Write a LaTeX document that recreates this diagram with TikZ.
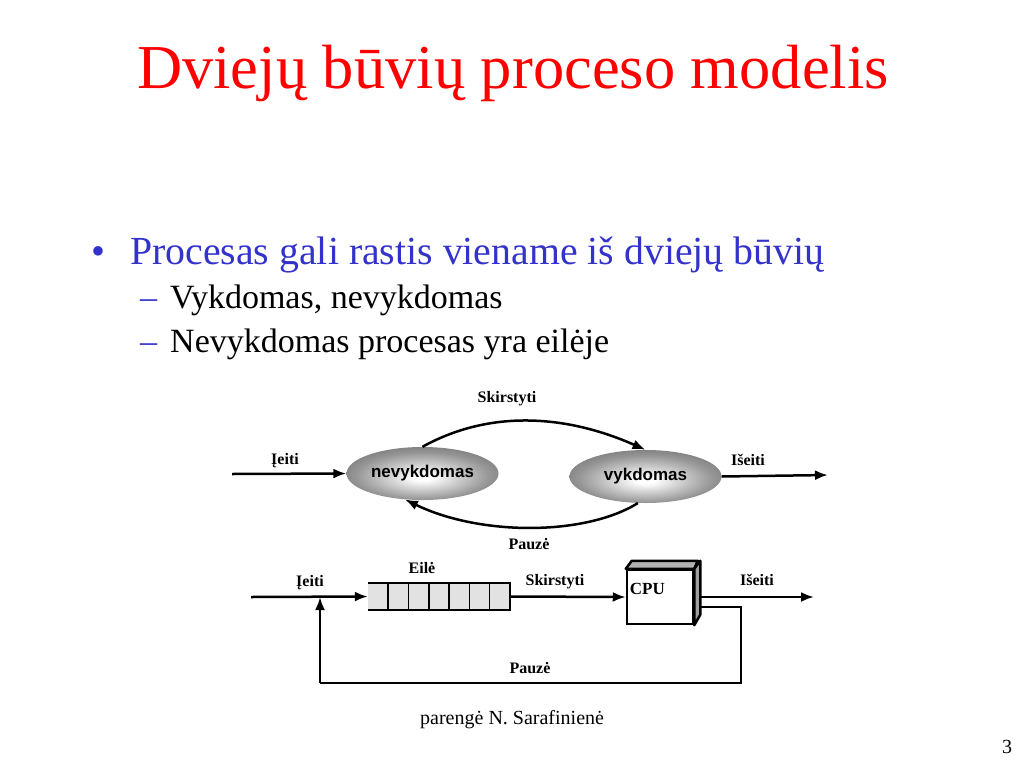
\documentclass[tikz,border=0pt]{standalone}
\usepackage{fontspec}
\setmainfont{Liberation Serif}
\setsansfont{Liberation Sans}
\usetikzlibrary{arrows.meta,shapes.geometric}
\definecolor{titlered}{RGB}{255,0,0}
\definecolor{bulletblue}{RGB}{51,51,204}
\definecolor{qgray}{RGB}{226,226,226}
\definecolor{ellmid}{RGB}{150,150,150}
\definecolor{ellout}{RGB}{75,75,75}
\pgfdeclareradialshading{ellsh}{\pgfpoint{0bp}{-4bp}}{color(0bp)=(white); color(3bp)=(white); color(22bp)=(ellmid); color(42bp)=(ellout); color(50bp)=(ellout)}
\begin{document}
\begin{tikzpicture}[x=1pt,y=-1pt,
  arr/.style={line width=2.5pt,-{Latex[length=13pt,width=10pt]}},
  ln/.style={line width=2.5pt},
  lbl/.style={font=\fontsize{16}{18}\selectfont\bfseries, inner sep=0pt},
  state/.style={ellipse, shading=ellsh, inner sep=0pt, minimum width=152pt, minimum height=53pt, font=\sffamily\bfseries\fontsize{17}{19}\selectfont},
  queue/.style={fill=qgray, minimum width=142pt, minimum height=27pt, inner sep=0pt},
  cpubox/.style={draw, line width=2.5pt, fill=white, minimum width=66pt, minimum height=54pt, inner sep=0pt},
  txt/.style={inner sep=0pt, anchor=base west}
]
\useasboundingbox (0,0) rectangle (1024,768);
\fill[white] (0,0) rectangle (1024,768);

% title and bullets
\node[txt, text=titlered, font=\fontsize{62.5}{70}\selectfont] (title) at (137,88) {Dviejų būvių proceso modelis};
\node[txt, text=bulletblue, font=\fontsize{39.8}{44}\selectfont] (b0) at (91,264) {•};
\node[txt, text=bulletblue, font=\fontsize{39.8}{44}\selectfont] (b1) at (130,264) {Procesas gali rastis viename iš dviejų būvių};
\node[txt, text=bulletblue, font=\fontsize{34}{38}\selectfont] (d1) at (140,308) {–};
\node[txt, font=\fontsize{34}{38}\selectfont] (s1) at (170,308) {Vykdomas, nevykdomas};
\node[txt, text=bulletblue, font=\fontsize{34}{38}\selectfont] (d2) at (140,352) {–};
\node[txt, font=\fontsize{34}{38}\selectfont] (s2) at (170,352) {Nevykdomas procesas yra eilėje};
\node[txt, font=\fontsize{20}{22}\selectfont] (foot) at (420,724) {parengė N. Sarafinienė};
\node[txt, font=\fontsize{20}{22}\selectfont] (pg) at (1002,753) {3};

% upper diagram
\node[state] (nev) at (422.5,473.5) {nevykdomas};
\node[state] (vyk) at (645.5,476.5) {vykdomas};
\coordinate (inA) at (232,474);
\coordinate (outA) at (828,475);
\draw[arr] (inA) -- (nev.west);
\draw[arr] (vyk.east) -- (outA);
\draw[arr] (nev.north) .. controls (485,412) and (560,412) .. (vyk.north);
\draw[arr] (vyk.-106) .. controls (585,536) and (480,536) .. (nev.-124);
\node[lbl] (l1) at (285,461) {Įeiti};
\node[lbl] (l2) at (748,460) {Išeiti};
\node[lbl] (l3) at (507,399) {Skirstyti};
\node[lbl] (l4) at (529,544) {Pauzė};

% lower diagram
\node[queue] (q) at (439,596.5) {};
\draw[ln] (q.north west) -- (q.north east) -- (q.south east) -- (q.south west);
\foreach \k in {1,...,6} {
  \draw[line width=1.6pt] ([xshift=\k*20.3pt]q.north west) -- ([xshift=\k*20.3pt]q.south west);
}
\node[cpubox] (cpu) at (660,597) {};
\draw[ln, fill=gray!60, line join=round] (cpu.north west) -- ++(6,-8) -- ++(66,0) -- (cpu.north east) -- cycle;
\draw[ln, fill=gray!75, line join=round] (cpu.north east) -- ++(6,-8) -- ++(0,54) -- (cpu.south east) -- cycle;
\node[anchor=west, inner sep=0pt, font=\fontsize{17}{19}\selectfont\bfseries] (cpul) at ([xshift=4pt,yshift=8pt]cpu.west) {CPU};

\coordinate (inB) at (251,597);
\coordinate (joinB) at (320,597);
\coordinate (outB) at (814,597);
\coordinate (pS) at (699,607);
\coordinate (pR) at (741,607);
\coordinate (pRB) at (741,683);
\coordinate (pLB) at (320,683);
\draw[arr] (inB) -- (q.west);
\draw[arr] (q.east) -- (cpu.west);
\draw[arr] ([xshift=6pt]cpu.east) -- (outB);
\draw[ln, line join=miter] (pS) -- (pR) -- (pRB) -- (pLB);
\draw[arr] (pLB) -- (joinB);
\node[lbl] (m1) at (310,583) {Įeiti};
\node[lbl] (m2) at (422,568) {Eilė};
\node[lbl] (m3) at (555,582) {Skirstyti};
\node[lbl] (m4) at (757,580) {Išeiti};
\node[lbl] (m5) at (530,668) {Pauzė};
\end{tikzpicture}
\end{document}
